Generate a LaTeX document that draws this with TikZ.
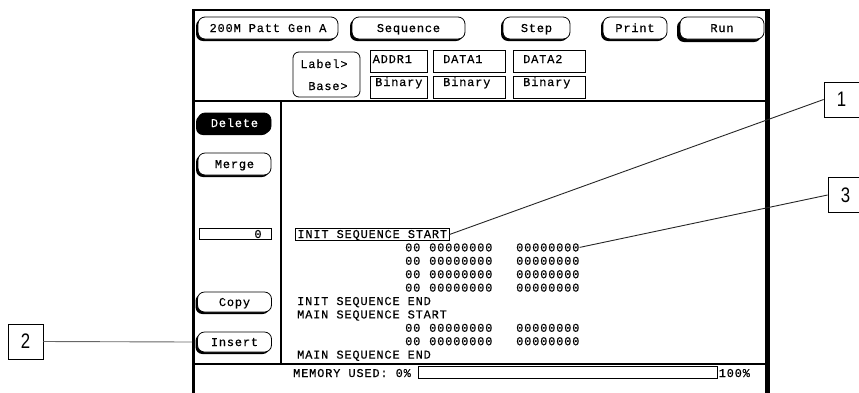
\documentclass[tikz,border=0pt]{standalone}
\usepackage{fontspec}
\usetikzlibrary{shadows}
\newfontfamily\hpfont[LetterSpace=6.7,FakeBold=0.3]{Liberation Mono}
\newfontfamily\labfont[FakeStretch=0.8]{Liberation Sans}
\tikzset{
  hp/.style={font=\hpfont\fontsize{12}{14}\selectfont, inner sep=0pt, text height=8pt, text depth=0pt},
  hpbtn/.style={hp, draw, fill=white, line width=0.8pt, rounded corners=7pt,
    drop shadow={shadow xshift=-2pt, shadow yshift=-2pt, fill=black, opacity=1}},
  hpbtnrun/.style={hp, draw, fill=white, line width=0.8pt, rounded corners=7pt,
    drop shadow={shadow xshift=-3pt, shadow yshift=-3pt, fill=black, opacity=1}},
  fieldbox/.style={draw, line width=0.8pt},
  lbl/.style={draw, line width=0.8pt, minimum width=35pt, minimum height=35pt, inner sep=0pt,
    font=\labfont\fontsize{21}{21}\selectfont},
  callout/.style={draw=black!85, line width=0.9pt},
  callouttwo/.style={draw=black!60, line width=0.9pt}
}
\begin{document}
\begin{tikzpicture}[x=1pt,y=-1pt]
\useasboundingbox (0,0) rectangle (859,392);
% frame
\draw[line width=1.5pt] (192,10) -- (768,10);
\draw[line width=3pt] (193.5,9.25) -- (193.5,396);
\draw[line width=5pt] (767.5,8.5) -- (767.5,396);
\draw[line width=2pt] (193,101) -- (766,101);
\draw[line width=2pt] (281,101) -- (281,364);
\draw[line width=2pt] (193,364) -- (766,364);
% header buttons
\node[hpbtn, minimum width=140pt, minimum height=22pt] (bpg) at (268,28) {200M Patt Gen A};
\node[hpbtn, minimum width=113pt, minimum height=22pt] (bseq) at (408.5,28) {Sequence};
\node[hpbtn, minimum width=67pt, minimum height=22pt] (bstep) at (536.5,28) {Step};
\node[hpbtn, minimum width=64pt, minimum height=22pt] (bprint) at (635,28) {Print};
\node[hpbtnrun, minimum width=84pt, minimum height=22pt] (brun) at (722,28) {Run};
% label / base
\draw[line width=0.8pt, rounded corners=6pt] (293,52) rectangle (360,97);
\node[hp, anchor=base east] (tlabel) at (347.8,68) {Label>};
\node[hp, anchor=base east] (tbase) at (347.8,90) {Base>};
\draw[fieldbox] (370,50) rectangle (427,72);
\draw[fieldbox] (370,76) rectangle (427,98);
\draw[fieldbox] (433,50) rectangle (505,72);
\draw[fieldbox] (433,76) rectangle (505,98);
\draw[fieldbox] (513,50) rectangle (585,72);
\draw[fieldbox] (513,76) rectangle (585,98);
\node[hp, anchor=base west] (taddr) at (372.5,63) {ADDR1};
\node[hp, anchor=base west] (tbin1) at (375,86) {Binary};
\node[hp, anchor=base west] (tdata1) at (443,63) {DATA1};
\node[hp, anchor=base west] (tbin2) at (443,86) {Binary};
\node[hp, anchor=base west] (tdata2) at (523,63) {DATA2};
\node[hp, anchor=base west] (tbin3) at (523,86) {Binary};
% left panel
\node[hpbtn, fill=black, text=white, minimum width=73pt, minimum height=20pt] (bdel) at (234.5,123) {Delete};
\node[hpbtn, minimum width=73pt, minimum height=22pt] (bmerge) at (234.5,164) {Merge};
\draw[fieldbox] (199,228) rectangle (271,239);
\node[hp, anchor=base east] (tzero) at (261.8,238) {0};
\node[hpbtn, minimum width=74pt, minimum height=20pt] (bcopy) at (234.5,302) {Copy};
\node[hpbtn, minimum width=74pt, minimum height=20pt] (binsert) at (234.5,342) {Insert};
% listing
\node[hp, anchor=base west, draw, line width=0.8pt, inner xsep=2pt, inner ysep=1.5pt, text depth=1pt] (tinit) at (295,238) {INIT SEQUENCE START};
\foreach \i/\y in {1/251.4,2/264.8,3/278.2,4/291.6,5/331.8,6/345.2}{
  \node[hp, anchor=base west] (za\i) at (405,\y) {00};
  \node[hp, anchor=base west] (zb\i) at (429,\y) {00000000};
  \node[hp, anchor=base west] (zc\i) at (516,\y) {00000000};
}
\node[hp, anchor=base west] (tinitend) at (297,305) {INIT SEQUENCE END};
\node[hp, anchor=base west] (tmain) at (297,318.4) {MAIN SEQUENCE START};
\node[hp, anchor=base west] (tmainend) at (297,358.6) {MAIN SEQUENCE END};
% memory
\node[hp, anchor=base west] (tmem) at (293,377) {MEMORY USED: 0\%};
\draw[fieldbox] (418,366) rectangle (717,378);
\node[hp, anchor=base west] (t100) at (718.5,377) {100\%};
% callouts
\node[lbl] (L1) at (841.5,99.5) {1};
\node[lbl] (L3) at (845.5,195) {3};
\node[lbl] (L2) at (25.5,341.5) {2};
\coordinate (fl) at (192,342);
\draw[callouttwo] (L2.east) -- (fl);
\draw[callout] (L1.west) -- (tinit.east);
\draw[callout] (L3.west) -- (zc1.east);
\end{tikzpicture}
\end{document}
